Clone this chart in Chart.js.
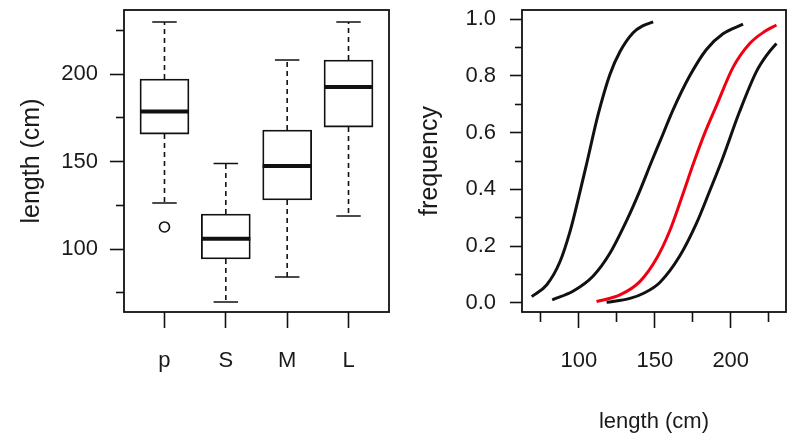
<!DOCTYPE html>
<html>
<head>
<meta charset="utf-8">
<script src="https://cdn.jsdelivr.net/npm/chart.js@4.4.1/dist/chart.umd.min.js"></script>
<style>
  body { margin: 0; background: #fff; }
  #wrap { position: relative; width: 787px; height: 439px; }
  canvas { position: absolute; top: 0; }
  #left { left: 0; }
  #right { left: 400px; }
</style>
</head>
<body>
<div id="wrap">
  <canvas id="left" width="400" height="439"></canvas>
  <canvas id="right" width="387" height="439"></canvas>
</div>
<script>
// boxplot of length by group
var groups = ['p', 'S', 'M', 'L'];
var whiskerLow = [126.3, 69.7, 84, 118.9];
var q1 = [165.7, 94.3, 128, 169.7];
var median = [178.6, 105.9, 147.4, 192.6];
var q3 = [197.1, 120, 168, 208];
var whiskerHigh = [229.7, 148.9, 208, 229.7];
var outlierGroup = ['p'];
var outlierValue = [112.6];
var lengthTicks = [100, 150, 200];
var lengthMinor = [75, 125, 175, 225];

// cumulative frequency curves (length, frequency)
var curve1X = [68.9, 78.7, 87.5, 94.1, 99.5, 105.5, 112.7, 120.4, 127, 135.7, 142, 148.9];
var curve1Y = [0.022, 0.063, 0.145, 0.251, 0.365, 0.5, 0.665, 0.805, 0.885, 0.952, 0.976, 0.99];
var curve2X = [82.4, 96.3, 109.4, 120.4, 131.4, 140.1, 148, 155, 162, 173, 184, 194.9, 208.1];
var curve2Y = [0.011, 0.042, 0.095, 0.175, 0.29, 0.395, 0.5, 0.59, 0.68, 0.8, 0.893, 0.948, 0.982];
var curveRedX = [111.6, 127, 140.1, 151.5, 159.9, 167.6, 176, 183, 190.6, 201.5, 212.5, 222, 230.1];
var curveRedY = [0.005, 0.028, 0.075, 0.16, 0.255, 0.37, 0.5, 0.6, 0.695, 0.83, 0.914, 0.955, 0.979];
var curve4X = [118.2, 133.6, 143, 153.3, 166.4, 177.4, 186.2, 194, 205.9, 216.9, 224, 230.1];
var curve4Y = [0.002, 0.016, 0.035, 0.072, 0.165, 0.28, 0.395, 0.5, 0.675, 0.815, 0.875, 0.914];
var freqTicks = [0, 0.2, 0.4, 0.6, 0.8, 1.0];
var freqMinor = [0.1, 0.3, 0.5, 0.7, 0.9];

var FONT = "'Liberation Sans', Arial, Helvetica, sans-serif";
var INK = '#111';

// force axis box size so both panels line up
function fixSize(prop, size) {
  return function(scale) {
    scale[prop] = size;
    scale.paddingTop = 0; scale.paddingBottom = 0;
    scale.paddingLeft = 0; scale.paddingRight = 0;
  };
}
function setTicks(values) {
  return function(scale) {
    scale.ticks = values.map(function(v) { return {value: v}; });
  };
}

// axis with ticks only (no line, no grid)
function tickAxis(pos, min, max, ticks, len, size, weight, extra) {
  var ax = {
    type: 'linear', position: pos, min: min, max: max, weight: weight,
    offset: false,
    afterBuildTicks: setTicks(ticks),
    afterFit: fixSize(pos == 'left' ? 'width' : 'height', size),
    border: {display: false},
    grid: {offset: false, drawOnChartArea: false, tickLength: len, tickWidth: 1.6, tickColor: INK},
    ticks: {display: false}
  };
  return Object.assign(ax, extra || {});
}

// box frame round the plot region
var frame = {
  id: 'frame',
  afterDraw: function(chart) {
    var a = chart.chartArea, ctx = chart.ctx;
    ctx.save();
    ctx.strokeStyle = INK;
    ctx.lineWidth = 1.8;
    ctx.strokeRect(a.left, a.top, a.right - a.left, a.bottom - a.top);
    ctx.restore();
  }
};

// medians, dashed whiskers and staples on top of the boxes
var whiskers = {
  id: 'whiskers',
  afterDatasetsDraw: function(chart) {
    var ctx = chart.ctx, x = chart.scales.x, y = chart.scales.y;
    var bars = chart.getDatasetMeta(0).data;
    ctx.save();
    ctx.strokeStyle = INK;
    for (var i = 0; i < groups.length; i++) {
      var cx = x.getPixelForValue(i + 1);
      var half = bars[i].width / 2;
      ctx.lineWidth = 1.6;
      ctx.setLineDash([5, 4]);
      ctx.beginPath();
      ctx.moveTo(cx, y.getPixelForValue(q3[i]));
      ctx.lineTo(cx, y.getPixelForValue(whiskerHigh[i]));
      ctx.moveTo(cx, y.getPixelForValue(q1[i]));
      ctx.lineTo(cx, y.getPixelForValue(whiskerLow[i]));
      ctx.stroke();
      ctx.setLineDash([]);
      ctx.beginPath();
      ctx.moveTo(cx - half / 2, y.getPixelForValue(whiskerHigh[i]));
      ctx.lineTo(cx + half / 2, y.getPixelForValue(whiskerHigh[i]));
      ctx.moveTo(cx - half / 2, y.getPixelForValue(whiskerLow[i]));
      ctx.lineTo(cx + half / 2, y.getPixelForValue(whiskerLow[i]));
      ctx.stroke();
      ctx.lineWidth = 4;
      ctx.beginPath();
      ctx.moveTo(cx - half, y.getPixelForValue(median[i]));
      ctx.lineTo(cx + half, y.getPixelForValue(median[i]));
      ctx.stroke();
    }
    ctx.restore();
  }
};

Chart.defaults.font.family = FONT;
Chart.defaults.color = '#1a1a1a';

var common = {
  responsive: false,
  animation: false,
  devicePixelRatio: 1,
  events: [],
  plugins: {legend: {display: false}, tooltip: {enabled: false}}
};

new Chart(document.getElementById('left'), {
  type: 'bar',
  data: {
    datasets: [
      {
        type: 'bar',
        data: groups.map(function(g, i) { return {x: i + 1, y: [q1[i], q3[i]]}; }),
        backgroundColor: '#fff', borderColor: INK, borderWidth: 1.8,
        borderSkipped: false, barThickness: 49
      },
      {
        type: 'scatter',
        data: outlierGroup.map(function(g, i) { return {x: groups.indexOf(g) + 1, y: outlierValue[i]}; }),
        pointRadius: 5, pointBorderWidth: 1.6,
        pointBackgroundColor: '#fff', pointBorderColor: INK
      }
    ]
  },
  options: Object.assign({}, common, {
    layout: {padding: {top: 10, right: 11, bottom: 0, left: 0}},
    scales: {
      x: tickAxis('bottom', 0.34, 4.66, [1, 2, 3, 4], 16, 127, 1, {
        ticks: {display: true, padding: 20, font: {size: 22},
          callback: function(v) { return groups[v - 1]; }}
      }),
      y: tickAxis('left', 64, 236.6, lengthTicks, 14, 124, 1, {
        ticks: {display: true, padding: 12, font: {size: 22}},
        title: {display: true, text: 'length (cm)', font: {size: 25}, padding: {top: 17}}
      }),
      yMinor: tickAxis('left', 64, 236.6, lengthMinor, 8, 0, 0)
    }
  }),
  plugins: [whiskers, frame]
});

function curve(xs, ys, color) {
  return {
    data: xs.map(function(v, i) { return {x: v, y: ys[i]}; }),
    borderColor: color, borderWidth: 3, pointRadius: 0,
    cubicInterpolationMode: 'monotone', fill: false
  };
}

new Chart(document.getElementById('right'), {
  type: 'line',
  data: {
    datasets: [
      curve(curve1X, curve1Y, INK),
      curve(curve2X, curve2Y, INK),
      curve(curve4X, curve4Y, INK),
      curve(curveRedX, curveRedY, '#f00010')
    ]
  },
  options: Object.assign({}, common, {
    layout: {padding: {top: 10, right: 1, bottom: 0, left: 0}},
    scales: {
      x: tickAxis('bottom', 62.5, 236.4, lengthTicks, 16, 127, 1, {
        ticks: {display: true, padding: 20, font: {size: 22}},
        title: {display: true, text: 'length (cm)', font: {size: 22}, padding: {bottom: 4}}
      }),
      xMinor: tickAxis('bottom', 62.5, 236.4, lengthMinor, 10, 0, 0),
      y: tickAxis('left', -0.032, 1.032, freqTicks, 12, 122, 1, {
        ticks: {display: true, padding: 14, font: {size: 22},
          callback: function(v) { return v.toFixed(1); }},
        title: {display: true, text: 'frequency', font: {size: 25}, padding: {top: 15}}
      }),
      yMinor: tickAxis('left', -0.032, 1.032, freqMinor, 7, 0, 0)
    }
  }),
  plugins: [frame]
});
</script>
</body>
</html>
